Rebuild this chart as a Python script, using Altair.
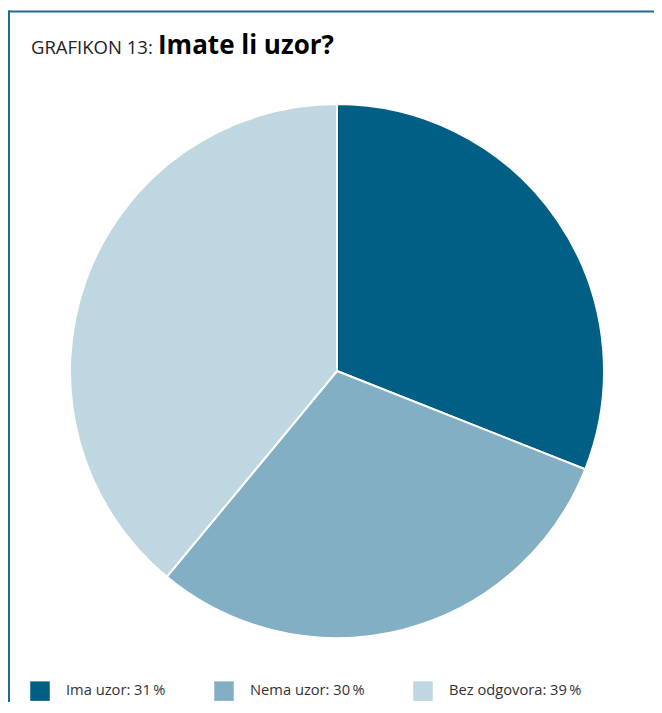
import altair as alt
import pandas as pd

categories = ["Ima uzor", "Nema uzor", "Bez odgovora"]
values = [31, 30, 39]
colors = ["#015e84", "#82afc4", "#bfd7e1"]
title_light = "GRAFIKON 13:"
title_bold = "Imate li uzor?"

FONT = "Open Sans"
W, H = 646, 694

labels = [f"{c}: {v}\u2009%" for c, v in zip(categories, values)]
df = pd.DataFrame({"label": labels, "value": values, "order": list(range(len(values)))})

pie = alt.Chart(df).mark_arc(outerRadius=267, stroke="white", strokeWidth=2).encode(
    theta=alt.Theta("value:Q", stack=True),
    order=alt.Order("order:Q"),
    color=alt.Color(
        "label:N",
        sort=labels,
        scale=alt.Scale(domain=labels, range=colors),
        legend=alt.Legend(
            title=None,
            orient="none",
            legendX=22,
            legendY=673,
            direction="horizontal",
            symbolType="square",
            symbolSize=380,
            symbolStrokeWidth=0,
            symbolOpacity=1,
            labelFont=FONT,
            labelFontSize=14.7,
            labelColor="#333333",
            labelOffset=16,
            columnPadding=48,
            padding=0,
        ),
    ),
    x=alt.value(329),
    y=alt.value(363),
)

t1 = alt.Chart(pd.DataFrame({"t": [title_light]})).mark_text(
    align="left", baseline="alphabetic", font=FONT, fontSize=18.5, color="#222222"
).encode(x=alt.value(23), y=alt.value(46), text="t:N")

t2 = alt.Chart(pd.DataFrame({"t": [title_bold]})).mark_text(
    align="left", baseline="alphabetic", font=FONT, fontSize=26, fontWeight="bold", color="#000000"
).encode(x=alt.value(150), y=alt.value(46), text="t:N")

frame_top = alt.Chart(pd.DataFrame({"a": [0]})).mark_rule(color="#23698c", strokeWidth=2).encode(
    x=alt.value(0), x2=alt.value(W), y=alt.value(3.5)
)
frame_left = alt.Chart(pd.DataFrame({"a": [0]})).mark_rule(color="#23698c", strokeWidth=2).encode(
    x=alt.value(1), y=alt.value(2.5), y2=alt.value(H)
)

chart = alt.layer(pie, t1, t2, frame_top, frame_left).properties(
    width=W, height=H, padding=0, autosize=alt.AutoSizeParams(type="none")
).configure_view(stroke=None)

chart.save("out.html", embed_options={"renderer": "svg", "actions": False})
